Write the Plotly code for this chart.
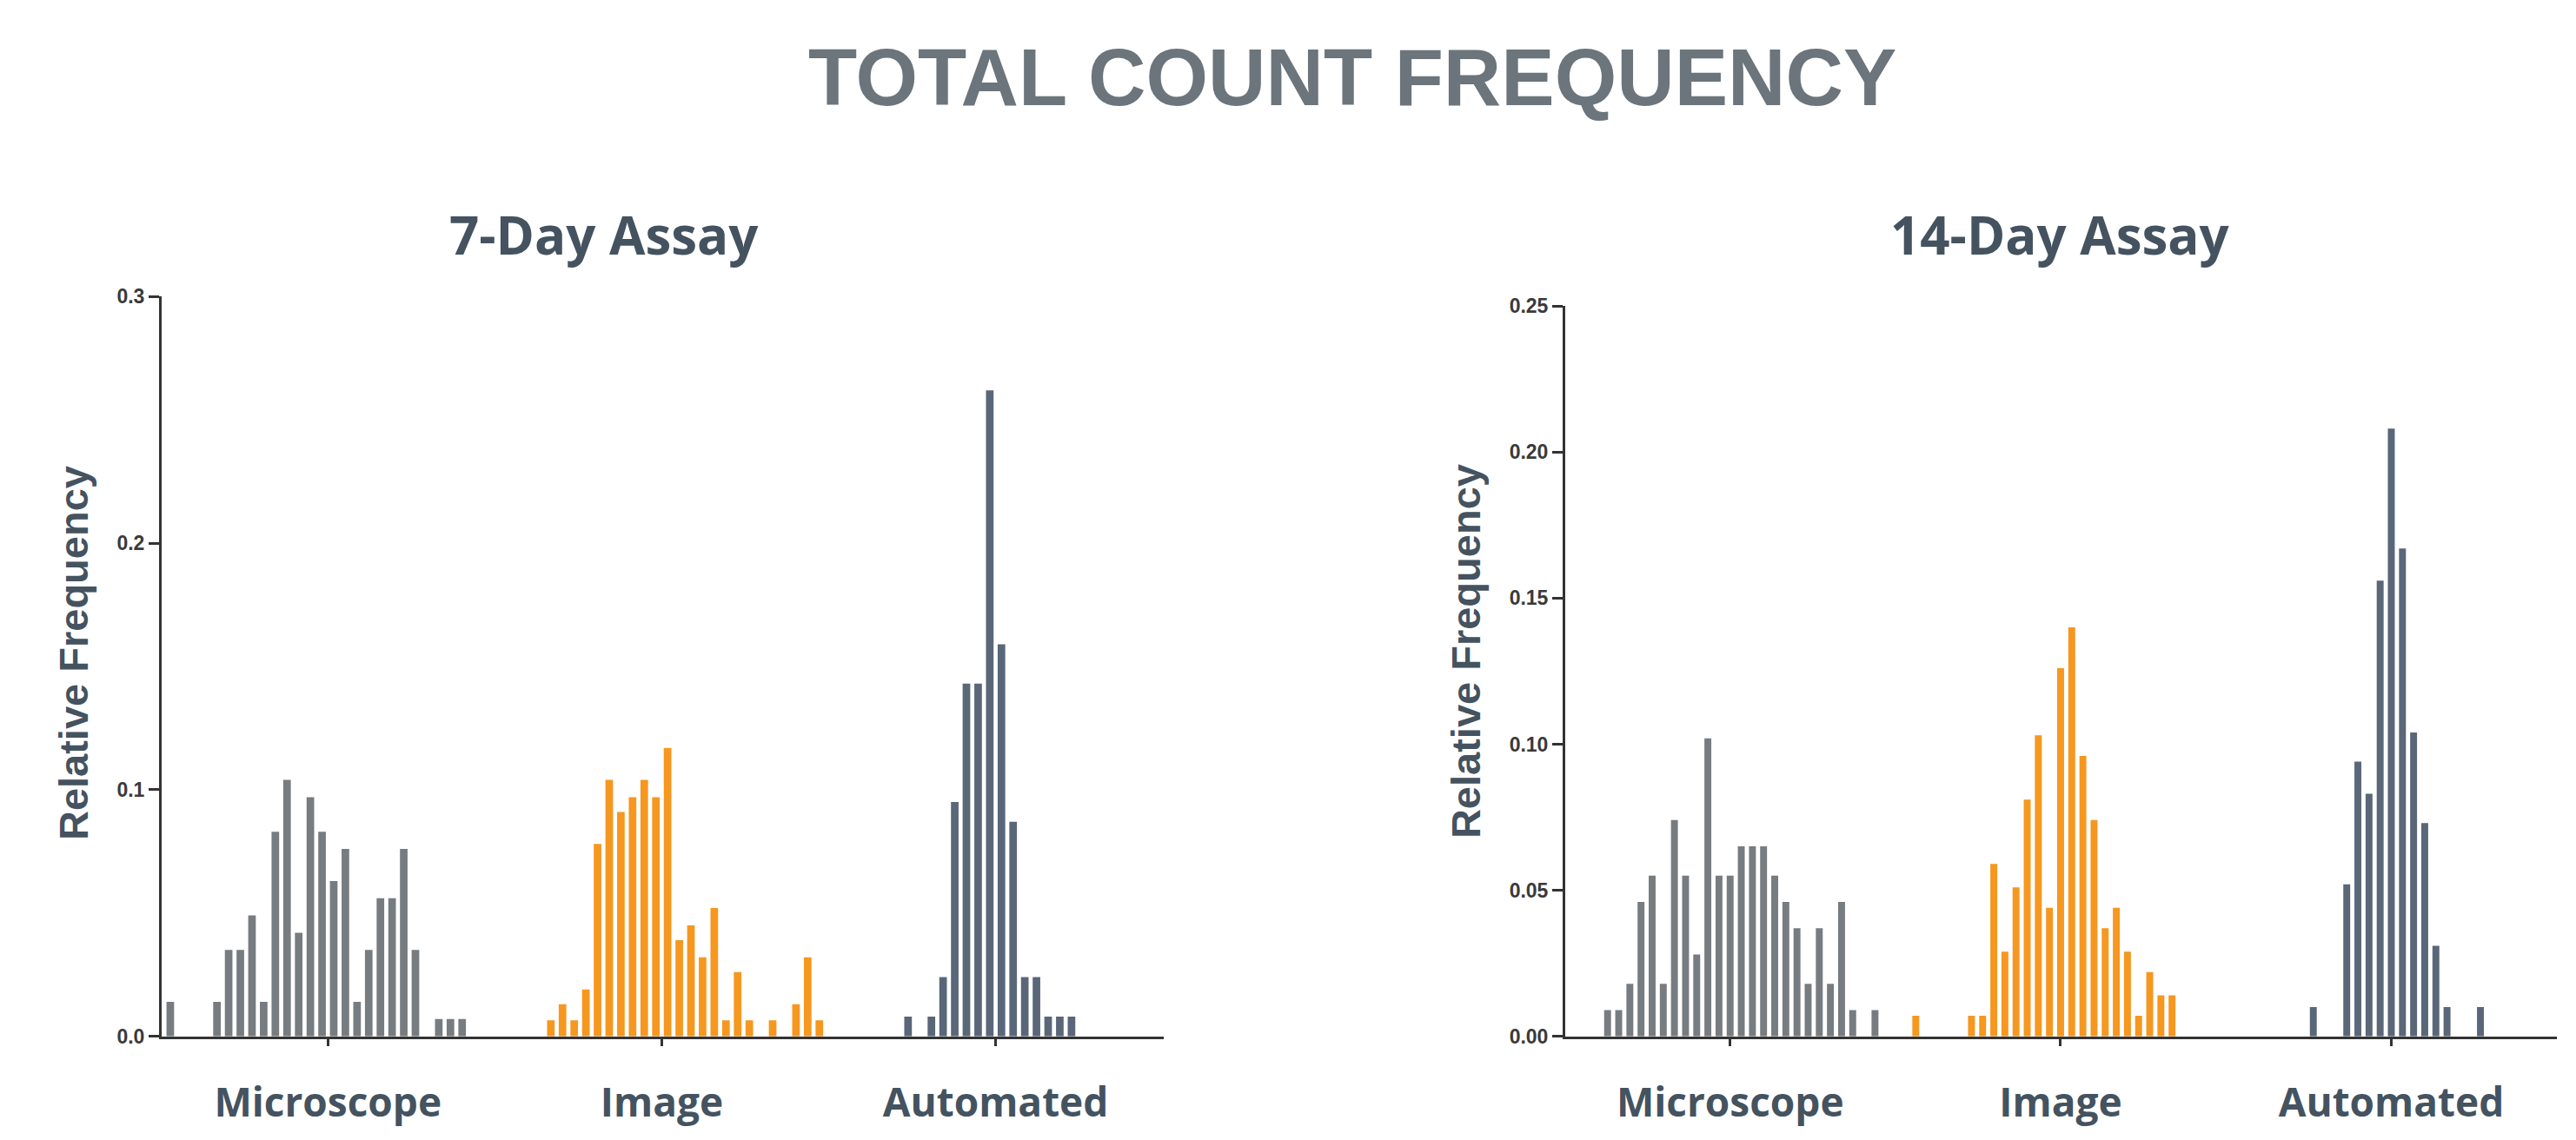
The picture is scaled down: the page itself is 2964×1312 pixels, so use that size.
import plotly.graph_objects as go

# ---------------- data ----------------
groups = ["Microscope", "Image", "Automated"]

# 7-Day assay: bin index within each histogram, relative frequency
micro7_bins = [0, 4, 5, 6, 7, 8, 9, 10, 11, 12, 13, 14, 15, 16, 17, 18, 19, 20, 21, 23, 24, 25]
micro7_vals = [0.014, 0.014, 0.035, 0.035, 0.049, 0.014, 0.083, 0.104, 0.042, 0.097, 0.083,
               0.063, 0.076, 0.014, 0.035, 0.056, 0.056, 0.076, 0.035, 0.007, 0.007, 0.007]
image7_bins = [0, 1, 2, 3, 4, 5, 6, 7, 8, 9, 10, 11, 12, 13, 14, 15, 16, 17, 19, 21, 22, 23]
image7_vals = [0.0065, 0.013, 0.0065, 0.019, 0.078, 0.104, 0.091, 0.097, 0.104, 0.097, 0.117,
               0.039, 0.045, 0.032, 0.052, 0.0065, 0.026, 0.0065, 0.0065, 0.013, 0.032, 0.0065]
auto7_bins = [0, 2, 3, 4, 5, 6, 7, 8, 9, 10, 11, 12, 13, 14]
auto7_vals = [0.008, 0.008, 0.024, 0.095, 0.143, 0.143, 0.262, 0.159, 0.087, 0.024, 0.024,
              0.008, 0.008, 0.008]

# 14-Day assay
micro14_bins = [0, 1, 2, 3, 4, 5, 6, 7, 8, 9, 10, 11, 12, 13, 14, 15, 16, 17, 18, 19, 20, 21, 22, 24]
micro14_vals = [0.009, 0.009, 0.018, 0.046, 0.055, 0.018, 0.074, 0.055, 0.028, 0.102, 0.055, 0.055,
                0.065, 0.065, 0.065, 0.055, 0.046, 0.037, 0.018, 0.037, 0.018, 0.046, 0.009, 0.009]
image14_bins = [0, 5, 6, 7, 8, 9, 10, 11, 12, 13, 14, 15, 16, 17, 18, 19, 20, 21, 22, 23]
image14_vals = [0.007, 0.007, 0.007, 0.059, 0.029, 0.051, 0.081, 0.103, 0.044, 0.126, 0.140,
                0.096, 0.074, 0.037, 0.044, 0.029, 0.007, 0.022, 0.014, 0.014]
auto14_bins = [0, 3, 4, 5, 6, 7, 8, 9, 10, 11, 12, 15]
auto14_vals = [0.010, 0.052, 0.094, 0.083, 0.156, 0.208, 0.167, 0.104, 0.073, 0.031, 0.010, 0.010]

y7_ticks = [0.0, 0.1, 0.2, 0.3]
y14_ticks = [0.00, 0.05, 0.10, 0.15, 0.20, 0.25]

# ---------------- layout parameters ----------------
W, H = 2964, 1312
colors = {"Microscope": "#777c81", "Image": "#f6971f", "Automated": "#596779"}
AX = "#333333"
TXT = "#44535f"

# group placement along each x axis (in bin units) and the bin that sits under the tick
left_offsets = {"Microscope": 0.0, "Image": 32.6, "Automated": 63.2}
left_center = {"Microscope": 13.5, "Image": 9.5, "Automated": 7.5}
right_offsets = {"Microscope": 0.0, "Image": 27.66, "Automated": 63.34}
right_center = {"Microscope": 11, "Image": 13, "Automated": 7}

fig = go.Figure()

left_data = {"Microscope": (micro7_bins, micro7_vals),
             "Image": (image7_bins, image7_vals),
             "Automated": (auto7_bins, auto7_vals)}
right_data = {"Microscope": (micro14_bins, micro14_vals),
              "Image": (image14_bins, image14_vals),
              "Automated": (auto14_bins, auto14_vals)}

for g in groups:
    b, v = left_data[g]
    fig.add_trace(go.Bar(x=[left_offsets[g] + k for k in b], y=v, width=0.65,
                         marker=dict(color=colors[g], line=dict(width=0)),
                         xaxis="x", yaxis="y", showlegend=False, name=g))
for g in groups:
    b, v = right_data[g]
    fig.add_trace(go.Bar(x=[right_offsets[g] + k for k in b], y=v, width=0.62,
                         marker=dict(color=colors[g], line=dict(width=0)),
                         xaxis="x2", yaxis="y2", showlegend=False, name=g))

def px_x(p):
    return p / W

def px_y(p):
    return (H - p) / H

tickfont_cat = dict(family="Open Sans", size=46, color=TXT, weight="bold")
tickfont_num = dict(family="Liberation Sans, Arial", size=23, color="#3a3a3a", weight="bold")

common_x = dict(showline=True, linewidth=3, linecolor=AX, ticks="outside", ticklen=8,
                tickwidth=3, tickcolor=AX, showgrid=False, zeroline=False,
                tickfont=tickfont_cat, ticklabelstandoff=26, fixedrange=True)
common_y = dict(showline=True, linewidth=3, linecolor=AX, ticks="outside", ticklen=12,
                tickwidth=3, tickcolor=AX, showgrid=False, zeroline=False,
                tickfont=tickfont_num, fixedrange=True)

fig.update_layout(
    width=W, height=H, autosize=False,
    margin=dict(l=0, r=0, t=0, b=0),
    paper_bgcolor="white", plot_bgcolor="white",
    barmode="overlay",
    xaxis=dict(domain=[px_x(186), px_x(1339)], range=[-0.74, 85.1], anchor="y",
               tickvals=[left_offsets[g] + left_center[g] for g in groups], ticktext=groups,
               **common_x),
    yaxis=dict(domain=[px_y(1203.5), px_y(335)], range=[0, 0.3], anchor="x",
               tickvals=y7_ticks, ticktext=[f"{t:.1f}" for t in y7_ticks], **common_y),
    xaxis2=dict(domain=[px_x(1801), px_x(2942)], range=[-3.8, 85.2], anchor="y2",
                tickvals=[right_offsets[g] + right_center[g] for g in groups], ticktext=groups,
                **common_x),
    yaxis2=dict(domain=[px_y(1203.5), px_y(346)], range=[0, 0.25], anchor="x2",
                tickvals=y14_ticks, ticktext=[f"{t:.2f}" for t in y14_ticks], **common_y),
)

annotations = [
    dict(text="TOTAL COUNT FREQUENCY", x=px_x(1556), y=px_y(78), xref="paper", yref="paper",
         xanchor="center", yanchor="middle", showarrow=False,
         font=dict(family="Liberation Sans, Arial", size=92, color="#6b757b", weight="bold")),
    dict(text="7-Day Assay", x=px_x(695), y=px_y(262), xref="paper", yref="paper",
         xanchor="center", yanchor="middle", showarrow=False,
         font=dict(family="Open Sans", size=60, color=TXT, weight="bold")),
    dict(text="14-Day Assay", x=px_x(2370), y=px_y(262), xref="paper", yref="paper",
         xanchor="center", yanchor="middle", showarrow=False,
         font=dict(family="Open Sans", size=60, color=TXT, weight="bold")),
    dict(text="Relative Frequency", x=px_x(84), y=px_y(754), xref="paper", yref="paper",
         xanchor="center", yanchor="middle", showarrow=False, textangle=-90,
         font=dict(family="Liberation Sans, Arial", size=47, color=TXT, weight="bold")),
    dict(text="Relative Frequency", x=px_x(1686), y=px_y(752), xref="paper", yref="paper",
         xanchor="center", yanchor="middle", showarrow=False, textangle=-90,
         font=dict(family="Liberation Sans, Arial", size=47, color=TXT, weight="bold")),
]
fig.update_layout(annotations=annotations)

fig.write_html("out.html", config={"displayModeBar": False})
